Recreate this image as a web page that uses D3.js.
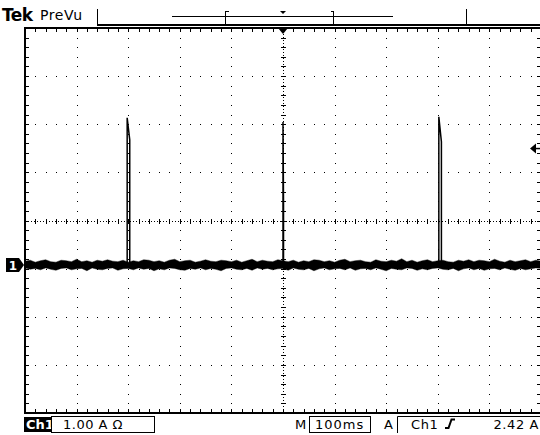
<!DOCTYPE html>
<html lang="en">
<head>
<meta charset="UTF-8">
<title>Tek PreVu</title>
<script src="https://d3js.org/d3.v7.min.js"></script>
<style>
  body { margin: 0; background: #fff; }
  text { font-family: "DejaVu Sans", sans-serif; fill: #000; }
</style>
</head>
<body>
<script>
  // baseline noise envelope (A), one value every 10 ms from -500 to +500 ms
  var noiseHi = [0.08,0.10,0.06,0.09,0.11,0.07,0.06,0.10,0.09,0.07,
    0.12,0.07,0.09,0.06,0.10,0.08,0.11,0.08,0.07,0.10,
    0.06,0.09,0.07,0.11,0.10,0.07,0.09,0.06,0.10,0.12,
    0.07,0.09,0.10,0.06,0.08,0.11,0.08,0.07,0.10,0.09,
    0.07,0.10,0.06,0.09,0.12,0.07,0.10,0.08,0.07,0.11,
    0.09,0.07,0.10,0.06,0.09,0.07,0.11,0.10,0.07,0.09,
    0.06,0.10,0.12,0.07,0.09,0.10,0.07,0.06,0.11,0.08,
    0.07,0.10,0.08,0.13,0.07,0.10,0.06,0.09,0.11,0.07,
    0.09,0.10,0.07,0.06,0.10,0.08,0.11,0.07,0.10,0.09,
    0.07,0.12,0.08,0.06,0.10,0.07,0.09,0.11,0.07,0.10,0.08];
  var noiseLo = [-0.06,-0.09,-0.07,-0.10,-0.06,-0.09,-0.11,-0.07,-0.06,-0.10,
    -0.08,-0.07,-0.12,-0.06,-0.09,-0.10,-0.07,-0.06,-0.11,-0.08,
    -0.07,-0.10,-0.06,-0.09,-0.07,-0.12,-0.08,-0.10,-0.06,-0.07,
    -0.10,-0.11,-0.07,-0.09,-0.06,-0.10,-0.07,-0.09,-0.12,-0.07,
    -0.06,-0.09,-0.10,-0.07,-0.11,-0.06,-0.09,-0.07,-0.10,-0.08,
    -0.07,-0.11,-0.06,-0.09,-0.10,-0.07,-0.12,-0.08,-0.06,-0.10,
    -0.08,-0.07,-0.10,-0.06,-0.11,-0.08,-0.07,-0.10,-0.06,-0.09,
    -0.12,-0.07,-0.09,-0.10,-0.06,-0.07,-0.11,-0.08,-0.10,-0.07,
    -0.06,-0.09,-0.10,-0.07,-0.12,-0.08,-0.06,-0.10,-0.07,-0.11,
    -0.08,-0.07,-0.10,-0.06,-0.09,-0.11,-0.07,-0.10,-0.08,-0.06,-0.07];

  // the three current pulses
  var pulseStartMs = [-302, 0, 302];
  var pulsePeakA = [3.06, 2.97, 3.08];
  var pulseDroopA = [2.60, 1.25, 2.56];
  var pulseWidthMs = [5, 1, 5];

  // scope settings / readouts
  var ampsPerDiv = 1.00;
  var msPerDiv = 100;
  var groundDiv = -0.925;   // channel 1 ground marker, divisions from centre
  var trigLevelA = 2.42;
  var trigTimeMs = 0;
  var chLabel = "Ch1";
  var scaleLabel = "1.00 A \u03a9";
  var timeLabel = "100ms";
  var trigLabel = "2.42 A";

  var width = 540, height = 435;
  var gLeft = 25, gRight = 541, gTop = 28, gBottom = 413;

  var svg = d3.select("body").append("svg")
    .attr("width", width)
    .attr("height", height)
    .style("display", "block");

  var x = d3.scaleLinear().domain([-5 * msPerDiv, 5 * msPerDiv]).range([gLeft, gRight]);
  var yDiv = d3.scaleLinear().domain([-4, 4]).range([gBottom, gTop]);
  function y(a) { return yDiv(a / ampsPerDiv + groundDiv); }

  var xMinor = d3.range(0, 51).map(function(i) { return x(-5 * msPerDiv + i * msPerDiv / 5); });
  var yMinor = d3.range(0, 41).map(function(j) { return yDiv(-4 + j * 0.2); });

  var grid = svg.append("g").attr("shape-rendering", "crispEdges");

  // dotted major lines
  [-4, -3, -2, -1, 1, 2, 3, 4].forEach(function(d) {
    var gx = Math.round(x(d * msPerDiv));
    grid.selectAll(null).data(yMinor).enter().append("rect")
      .attr("x", gx).attr("y", function(v) { return Math.round(v); })
      .attr("width", 1).attr("height", 1);
  });
  [-3, -2, -1, 1, 2, 3].forEach(function(d) {
    var gy = Math.round(yDiv(d));
    grid.selectAll(null).data(xMinor).enter().append("rect")
      .attr("x", function(v) { return Math.round(v); }).attr("y", gy)
      .attr("width", 1).attr("height", 1);
  });

  // centre cross with ticks
  var cx = Math.round(x(0)) + 0.5, cy = Math.round(yDiv(0)) + 0.5;
  grid.append("line").attr("x1", gLeft).attr("x2", gRight).attr("y1", cy).attr("y2", cy)
    .attr("stroke", "#000").attr("stroke-dasharray", "1,2");
  grid.append("line").attr("y1", gTop).attr("y2", gBottom).attr("x1", cx).attr("x2", cx)
    .attr("stroke", "#000").attr("stroke-dasharray", "1,2");
  grid.selectAll(null).data(xMinor).enter().append("line")
    .attr("x1", function(v) { return Math.round(v) + 0.5; })
    .attr("x2", function(v) { return Math.round(v) + 0.5; })
    .attr("y1", cy - 2.5).attr("y2", cy + 2.5).attr("stroke", "#000");
  grid.selectAll(null).data(yMinor).enter().append("line")
    .attr("y1", function(v) { return Math.round(v) + 0.5; })
    .attr("y2", function(v) { return Math.round(v) + 0.5; })
    .attr("x1", cx - 2.5).attr("x2", cx + 2.5).attr("stroke", "#000");

  // edge ticks
  grid.selectAll(null).data(yMinor).enter().append("line")
    .attr("y1", function(v) { return Math.round(v) + 0.5; })
    .attr("y2", function(v) { return Math.round(v) + 0.5; })
    .attr("x1", gLeft).attr("x2", gLeft + 4).attr("stroke", "#000");
  grid.selectAll(null).data(yMinor).enter().append("line")
    .attr("y1", function(v) { return Math.round(v) + 0.5; })
    .attr("y2", function(v) { return Math.round(v) + 0.5; })
    .attr("x1", gRight - 4).attr("x2", gRight).attr("stroke", "#000");
  grid.selectAll(null).data(xMinor).enter().append("line")
    .attr("x1", function(v) { return Math.round(v) + 0.5; })
    .attr("x2", function(v) { return Math.round(v) + 0.5; })
    .attr("y1", gTop).attr("y2", gTop + 4).attr("stroke", "#000");
  grid.selectAll(null).data(xMinor).enter().append("line")
    .attr("x1", function(v) { return Math.round(v) + 0.5; })
    .attr("x2", function(v) { return Math.round(v) + 0.5; })
    .attr("y1", gBottom - 4).attr("y2", gBottom).attr("stroke", "#000");

  // frame
  grid.append("path")
    .attr("d", "M" + gRight + "," + gTop + "H" + gLeft + "V" + gBottom + "H" + gRight)
    .attr("fill", "none").attr("stroke", "#000").attr("stroke-width", 2);

  // trace: noisy baseline band
  var times = d3.range(-500, 501, 10);
  var band = d3.area()
    .x(function(d, i) { return x(times[i]); })
    .y0(function(d, i) { return y(noiseLo[i]); })
    .y1(function(d, i) { return y(noiseHi[i]); });
  svg.append("path")
    .datum(noiseHi)
    .attr("d", band)
    .attr("fill", "#000")
    .attr("stroke", "#000")
    .attr("stroke-width", 0.4);

  // pulses
  var pulseLine = d3.line().x(function(d) { return x(d[0]); }).y(function(d) { return y(d[1]); });
  pulseStartMs.forEach(function(t0, i) {
    var pts = [[t0, 0], [t0, pulsePeakA[i]], [t0 + pulseWidthMs[i], pulseDroopA[i]], [t0 + pulseWidthMs[i], 0]];
    svg.append("path")
      .attr("d", pulseLine(pts))
      .attr("fill", "none")
      .attr("stroke", "#000")
      .attr("stroke-width", 1.5);
  });

  // ground marker for channel 1
  var gy0 = y(0);
  svg.append("path")
    .attr("d", "M6," + (gy0 - 7) + "H19L24," + gy0 + "L19," + (gy0 + 7) + "H6Z")
    .attr("fill", "#000");
  svg.append("text").attr("x", 13).attr("y", gy0 + 4.5)
    .attr("text-anchor", "middle").style("font-size", "12px").style("font-weight", "bold")
    .style("fill", "#fff").text("1");

  // trigger position marker (top) and level marker (right)
  var tx = x(trigTimeMs);
  svg.append("path")
    .attr("d", "M" + (tx - 5) + "," + gTop + "H" + (tx + 5) + "L" + tx + "," + (gTop + 6) + "Z")
    .attr("fill", "#000");
  var ly = y(trigLevelA);
  svg.append("path")
    .attr("d", "M" + (gRight - 11) + "," + ly + "L" + (gRight - 5) + "," + (ly - 5) + "V" + (ly + 5) + "Z")
    .attr("fill", "#000");
  svg.append("line").attr("x1", gRight - 6).attr("x2", gRight).attr("y1", ly).attr("y2", ly)
    .attr("stroke", "#000").attr("stroke-width", 1.5);

  // header
  svg.append("text").attr("x", 2).attr("y", 21).style("font-size", "17px").style("font-weight", "bold")
    .style("letter-spacing", "-0.5px").text("Tek");
  svg.append("text").attr("x", 40).attr("y", 20).style("font-size", "14px")
    .style("letter-spacing", "0.6px").text("PreVu");
  var hdr = svg.append("g").attr("stroke", "#000").attr("fill", "none").attr("shape-rendering", "crispEdges");
  hdr.append("line").attr("x1", 97.5).attr("x2", 97.5).attr("y1", 9).attr("y2", 26);
  hdr.append("line").attr("x1", 466.5).attr("x2", 466.5).attr("y1", 9).attr("y2", 26);
  hdr.append("line").attr("x1", 97).attr("x2", width).attr("y1", 25).attr("y2", 25).attr("stroke-width", 2);
  hdr.append("line").attr("x1", 172).attr("x2", 393).attr("y1", 16.5).attr("y2", 16.5);
  hdr.append("path").attr("d", "M228.5,11.5H225.5V24.5H228.5");
  hdr.append("path").attr("d", "M330.5,11.5H333.5V24.5H330.5");
  svg.append("path").attr("d", "M" + (tx - 3) + ",11H" + (tx + 3) + "L" + tx + ",14Z").attr("fill", "#000");

  // footer readouts
  var ft = svg.append("g");
  ft.append("rect").attr("x", 24).attr("y", 417).attr("width", 27).attr("height", 15).attr("fill", "#000");
  ft.append("text").attr("x", 26).attr("y", 429).style("font-size", "13px").style("font-weight", "bold")
    .style("fill", "#fff").text(chLabel);
  ft.append("rect").attr("x", 51.5).attr("y", 416.5).attr("width", 103).attr("height", 16)
    .attr("fill", "none").attr("stroke", "#000");
  ft.append("text").attr("x", 63).attr("y", 429).style("font-size", "13px").style("letter-spacing", "0.5px").text(scaleLabel);
  ft.append("text").attr("x", 295).attr("y", 429).style("font-size", "13px").text("M");
  ft.append("rect").attr("x", 309.5).attr("y", 416.5).attr("width", 61).attr("height", 16)
    .attr("fill", "none").attr("stroke", "#000");
  ft.append("text").attr("x", 315).attr("y", 429).style("font-size", "13px").style("letter-spacing", "1px").text(timeLabel);
  ft.append("text").attr("x", 384).attr("y", 429).style("font-size", "13px").text("A");
  ft.append("path").attr("d", "M397.5,433V416.5H540").attr("fill", "none").attr("stroke", "#000");
  ft.append("text").attr("x", 411).attr("y", 429).style("font-size", "13px").style("letter-spacing", "0.6px").text(chLabel);
  ft.append("path").attr("d", "M445,428H448.5L451.5,419.5H455").attr("fill", "none")
    .attr("stroke", "#000").attr("stroke-width", 2);
  ft.append("text").attr("x", 539).attr("y", 429).attr("text-anchor", "end").style("font-size", "13px")
    .style("letter-spacing", "0.6px").text(trigLabel);
</script>
</body>
</html>
